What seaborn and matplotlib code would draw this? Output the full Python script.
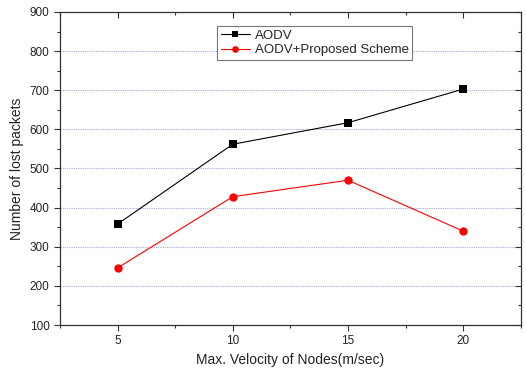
import numpy as np
import pandas as pd
import matplotlib
matplotlib.use("Agg")
import matplotlib.pyplot as plt
import seaborn as sns
from matplotlib.ticker import MultipleLocator

velocity = [5, 10, 15, 20]
aodv = [358, 562, 617, 703]
proposed = [246, 428, 470, 340]

df = pd.DataFrame({
    "velocity": velocity * 2,
    "lost": aodv + proposed,
    "scheme": ["AODV"] * 4 + ["AODV+Proposed Scheme"] * 4,
})

sns.set_style("white")
plt.rcParams["font.family"] = ["Liberation Sans", "DejaVu Sans"]

fig = plt.figure(figsize=(5.26, 3.70), dpi=100)
ax = fig.add_axes([0.114, 0.1216, 0.876, 0.846])

sns.lineplot(data=df, x="velocity", y="lost", hue="scheme", style="scheme",
             palette=["black", "red"], markers=["s", "o"], dashes=False,
             markersize=6, linewidth=0.8, markeredgewidth=0, ax=ax)

ax.set_xlim(2.5, 22.5)
ax.set_ylim(100, 900)
ax.set_xticks(velocity)
ax.xaxis.set_minor_locator(MultipleLocator(2.5))
ax.yaxis.set_major_locator(MultipleLocator(100))
ax.yaxis.set_minor_locator(MultipleLocator(50))
ax.tick_params(which="both", direction="out", left=True, bottom=True,
               labelsize=8.5, colors="#333333", labelcolor="#222222")
ax.tick_params(which="major", length=4, width=0.8)
ax.tick_params(which="minor", length=2.5, width=0.8)
for sp in ax.spines.values():
    sp.set_color("#333333")
    sp.set_linewidth(0.9)

# inward ticks on top and right
top = ax.secondary_xaxis("top")
top.set_xticks(velocity)
top.xaxis.set_minor_locator(MultipleLocator(2.5))
top.tick_params(which="both", direction="in", labeltop=False, colors="#333333", width=0.8)
top.tick_params(which="major", length=4)
top.tick_params(which="minor", length=2.5)
top.spines["top"].set_visible(False)
right = ax.secondary_yaxis("right")
right.yaxis.set_major_locator(MultipleLocator(100))
right.yaxis.set_minor_locator(MultipleLocator(50))
right.tick_params(which="both", direction="in", labelright=False, colors="#333333", width=0.8)
right.tick_params(which="major", length=4)
right.tick_params(which="minor", length=2.5)
right.spines["right"].set_visible(False)

for v in range(200, 900, 100):
    ax.axhline(v, color="#a8a8dd", linestyle=(0, (1, 1)), linewidth=0.8, zorder=0)

ax.set_xlabel("Max. Velocity of Nodes(m/sec)", fontsize=10, color="#222222")
ax.set_ylabel("Number of lost packets", fontsize=10, color="#222222")

leg = ax.legend(loc="upper center", bbox_to_anchor=(0.553, 0.955), frameon=True,
                fancybox=False, edgecolor="#555555", fontsize=9.5,
                handlelength=2.2, borderpad=0.25, labelspacing=0.2,
                handletextpad=0.4, borderaxespad=0, markerscale=0.8)
leg.get_frame().set_linewidth(0.8)

fig.savefig("out.png", dpi=100)
